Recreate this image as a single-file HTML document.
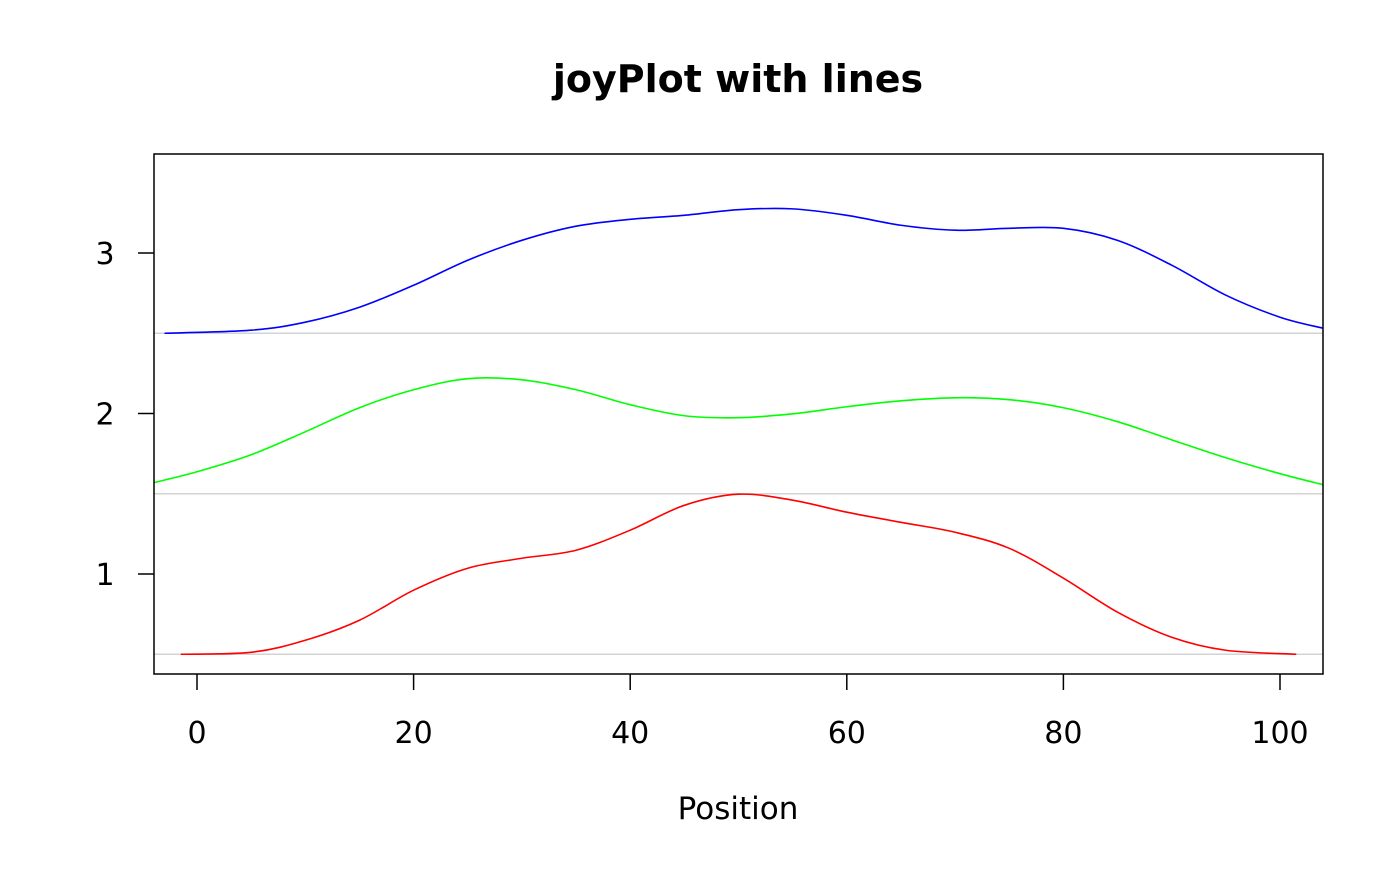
<!DOCTYPE html>
<html><head><meta charset="utf-8"><style>
body{margin:0;background:#fff;}
svg text{font-family:"DejaVu Sans","Liberation Sans",sans-serif;}
</style></head><body>
<svg id="chart" width="1400" height="866">
<text x="738" y="92" text-anchor="middle" font-size="38" font-weight="bold">joyPlot with lines</text>
<text x="738" y="819" text-anchor="middle" font-size="31">Position</text>
<g id="baselines"></g>
<g id="series"></g>
<rect x="154" y="154" width="1169" height="520" fill="none" stroke="#000" stroke-width="1.5"/>
<g id="xaxis"></g><g id="yaxis"></g>
</svg>
<script>
const xTicks=[0,20,40,60,80,100];
const yTicks=[1,2,3];
const redX=[-1.5,5,10,15,20,25,30,35,40,45,50,55,60,65,70,75,80,85,90,95,101.5];
const redH=[0,0.012,0.087,0.212,0.399,0.536,0.598,0.648,0.773,0.928,0.997,0.960,0.885,0.822,0.760,0.660,0.474,0.262,0.106,0.025,0];
const greenX=[-4,0,5,10,15,20,25,30,35,40,45,50,55,60,65,70,75,80,85,90,95,100,104];
const greenH=[0.069,0.137,0.243,0.386,0.536,0.648,0.717,0.710,0.648,0.555,0.486,0.474,0.498,0.542,0.579,0.598,0.586,0.536,0.449,0.336,0.224,0.125,0.056];
const blueX=[-3,5,10,15,20,25,30,35,40,45,50,55,60,65,70,75,80,85,90,95,100,104];
const blueH=[0,0.019,0.069,0.162,0.299,0.455,0.579,0.667,0.710,0.735,0.770,0.775,0.735,0.673,0.642,0.654,0.654,0.579,0.424,0.237,0.100,0.031];
const offsets=[0.5,1.5,2.5];
const X=v=>197+(v)*10.83;
const Y=v=>574-(v-1)*160.5;
const NS="http://www.w3.org/2000/svg";
function mk(t,a,p){const e=document.createElementNS(NS,t);for(const k in a)e.setAttribute(k,a[k]);p.appendChild(e);return e;}
const bl=document.getElementById('baselines');
offsets.forEach(o=>{const l=mk('line',{x1:154,x2:1323,y1:Y(o),y2:Y(o),stroke:'#d3d3d3','stroke-width':1.5},bl);

});
function path(xs,hs,off){const p=xs.map((x,i)=>[X(x),Y(off+hs[i])]);let d=`M${p[0][0]},${p[0][1]}`;
for(let i=0;i<p.length-1;i++){const p0=p[i-1]||p[i],p1=p[i],p2=p[i+1],p3=p[i+2]||p2;
d+=` C${p1[0]+(p2[0]-p0[0])/6},${p1[1]+(p2[1]-p0[1])/6} ${p2[0]-(p3[0]-p1[0])/6},${p2[1]-(p3[1]-p1[1])/6} ${p2[0]},${p2[1]}`;}return d;}
const sg=document.getElementById('series');
[[redX,redH,0.5,'#ff0000','red-density-line'],[greenX,greenH,1.5,'#00ff00','green-density-line'],[blueX,blueH,2.5,'#0000ff','blue-density-line']].forEach(s=>{
const e=mk('path',{d:path(s[0],s[1],s[2]),fill:'none',stroke:s[3],'stroke-width':1.6},sg);

});
const xa=document.getElementById('xaxis');
xTicks.forEach(t=>{const l=mk('line',{x1:X(t),x2:X(t),y1:674,y2:690,stroke:'#000','stroke-width':1.5},xa);


const tx=mk('text',{x:X(t),y:743,'text-anchor':'middle','font-size':30},xa);tx.textContent=t;

});
const ya=document.getElementById('yaxis');
yTicks.forEach(t=>{const l=mk('line',{x1:138,x2:154,y1:Y(t),y2:Y(t),stroke:'#000','stroke-width':1.5},ya);


const tx=mk('text',{x:105,y:Y(t)+11,'text-anchor':'middle','font-size':30},ya);tx.textContent=t;

});
</script>
</body></html>
